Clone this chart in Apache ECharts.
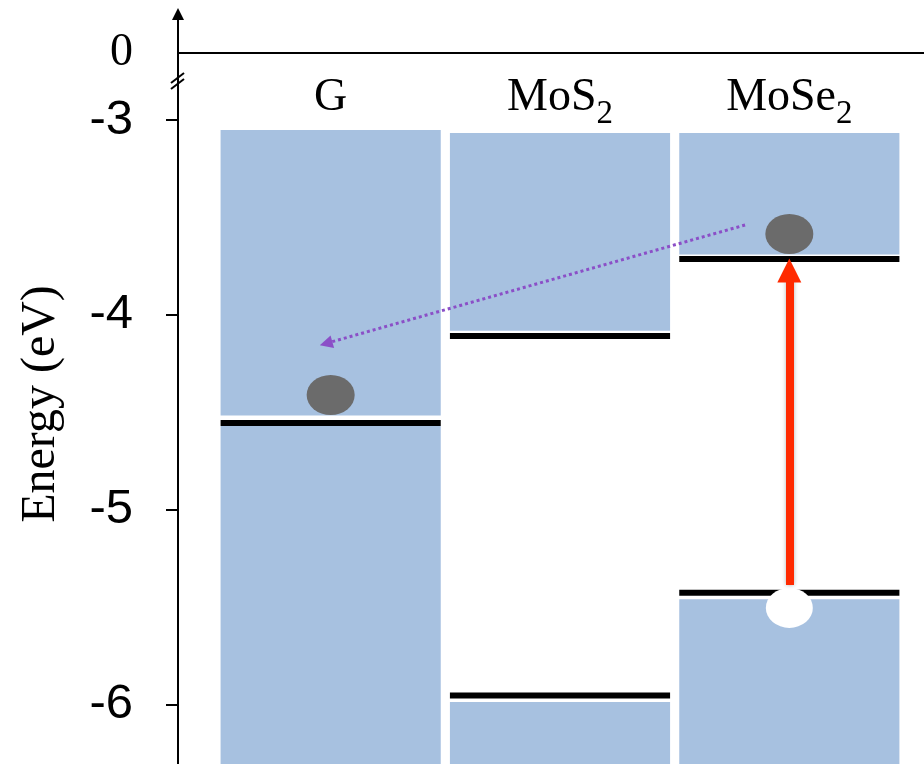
<!DOCTYPE html>
<html><head><meta charset="utf-8">
<script src="https://cdn.jsdelivr.net/npm/echarts@6/dist/echarts.min.js"></script>
<style>html,body{margin:0;padding:0;background:#fff}#c{width:924px;height:764px}</style>
</head><body><div id="c"></div>
<script>
// ---- data ----
const categories = ['G', 'MoS2', 'MoSe2'];
const yTickValues = [-3, -4, -5, -6];
const topTickValues = [0];
const bandTop = [-3.051, -3.067, -3.067];       // top of upper (conduction) band block
const cbBandBottom = [-4.517, -4.082, -3.690];  // bottom of upper block
const cbEdge = [-4.556, -4.109, -3.714];        // black level line (CBM / Fermi level)
const vbEdge = [null, -5.955, -5.427];          // black level line (VBM)
const vbBandTop = [-4.571, -5.988, -5.461];     // top of lower (valence) band block
const bandFloor = -6.4;
const electrons = [[0, -4.412], [2, -3.585]];
const holes = [[2, -5.505]];
const excitation = [[2, -5.387], [2, -3.773]];
const transfer = [[1.807, -3.539], [-0.02, -4.147]];

const BLUE = '#a7c1e0';
const BAR_RATIO = 0.96;
const FONT = 'Liberation Serif';
const TICK_FONT = "'Liberation Sans', sans-serif";

const upperBands = categories.map((c, i) => [i, bandTop[i], cbBandBottom[i]]);
const lowerBands = categories.map((c, i) => [i, vbBandTop[i], bandFloor]);
const edgeLines = [];
categories.forEach((c, i) => {
  if (cbEdge[i] != null) edgeLines.push([i, cbEdge[i]]);
  if (vbEdge[i] != null) edgeLines.push([i, vbEdge[i]]);
});

function bandRender(params, api) {
  const x = api.value(0);
  const p1 = api.coord([x, api.value(1)]);
  const p2 = api.coord([x, api.value(2)]);
  const w = api.size([BAR_RATIO, 0])[0];
  return { type: 'rect', shape: { x: p1[0] - w / 2, y: p1[1], width: w, height: p2[1] - p1[1] },
           style: { fill: BLUE } };
}
function edgeRender(params, api) {
  const p = api.coord([api.value(0), api.value(1)]);
  const w = api.size([BAR_RATIO, 0])[0];
  return { type: 'rect', shape: { x: p[0] - w / 2, y: p[1] - 3, width: w, height: 6 },
           style: { fill: '#000' } };
}

const chart = echarts.init(document.getElementById('c'), null, { renderer: 'canvas' });
chart.setOption({
  animation: false,
  backgroundColor: '#fff',
  grid: [
    { left: 178, right: 0, top: 14, height: 66, outerBoundsMode: 'none', containLabel: false },
    { left: 216, right: 20, top: 80, bottom: 0, outerBoundsMode: 'none', containLabel: false }
  ],
  xAxis: [
    { gridIndex: 0, type: 'value', min: 0, max: 1,
      axisLine: { show: true, onZero: true, lineStyle: { color: '#000', width: 2 } },
      axisTick: { show: false }, axisLabel: { show: false }, splitLine: { show: false } },
    { gridIndex: 1, type: 'value', min: -0.5, max: 2.5, position: 'top',
      axisLine: { show: false, onZero: false }, axisTick: { show: false }, splitLine: { show: false },
      axisLabel: {
        show: true, inside: true, margin: 18, verticalAlign: 'middle',
        customValues: categories.map((c, i) => i),
        color: '#000', fontFamily: FONT, fontSize: 46,
        formatter: v => categories[Math.round(v)].replace(/(\d+)$/, '{sub|$1}'),
        rich: { sub: { fontSize: 33, fontFamily: FONT, color: '#000', padding: [32, 0, 0, 0] } }
      } }
  ],
  yAxis: [
    { gridIndex: 0, type: 'value', min: -0.9, max: 1.3,
      axisLine: { show: true, onZero: false, symbol: ['none', 'triangle'], symbolSize: [12, 12],
                  lineStyle: { color: '#000', width: 2 } },
      axisTick: { show: false }, splitLine: { show: false },
      axisLabel: { customValues: topTickValues, margin: 45, color: '#000', fontFamily: FONT, fontSize: 46 } },
    { gridIndex: 1, type: 'value', min: -6.3065, max: -2.7946, offset: 38,
      name: 'Energy (eV)', nameLocation: 'middle', nameRotate: 90, nameGap: 113, nameMoveOverlap: false,
      nameTextStyle: { fontFamily: FONT, fontSize: 48, color: '#000', padding: [0, 0, 0, 36] },
      axisLine: { show: true, onZero: false, lineStyle: { color: '#000', width: 2 } },
      axisTick: { show: true, length: 12, customValues: yTickValues, lineStyle: { color: '#000', width: 2 } },
      splitLine: { show: false },
      axisLabel: { customValues: yTickValues, margin: 45, color: '#000', fontFamily: TICK_FONT, fontSize: 49 } }
  ],
  series: [
    { type: 'custom', xAxisIndex: 1, yAxisIndex: 1, clip: true, z: 1, renderItem: bandRender, data: upperBands },
    { type: 'custom', xAxisIndex: 1, yAxisIndex: 1, clip: true, z: 1, renderItem: bandRender, data: lowerBands },
    { type: 'custom', xAxisIndex: 1, yAxisIndex: 1, clip: true, z: 2, renderItem: edgeRender, data: edgeLines },
    { type: 'scatter', xAxisIndex: 1, yAxisIndex: 1, z: 3, symbol: 'circle', symbolSize: [48, 40],
      itemStyle: { color: '#6b6b6b', opacity: 1 }, data: electrons },
    { type: 'scatter', xAxisIndex: 1, yAxisIndex: 1, z: 3, symbol: 'circle', symbolSize: [47, 40],
      itemStyle: { color: '#ffffff', opacity: 1 }, data: holes },
    { type: 'lines', coordinateSystem: 'cartesian2d', xAxisIndex: 1, yAxisIndex: 1, z: 4,
      symbol: ['none', 'triangle'], symbolSize: [0, 24],
      lineStyle: { color: '#ff2a00', width: 8, opacity: 1, shadowBlur: 4, shadowColor: 'rgba(0,0,0,0.3)' },
      itemStyle: { color: '#ff2a00' },
      data: [{ coords: excitation }] },
    { type: 'lines', coordinateSystem: 'cartesian2d', xAxisIndex: 1, yAxisIndex: 1, z: 4,
      symbol: ['none', 'triangle'], symbolSize: [0, 13],
      lineStyle: { color: '#8b4fc7', width: 3, type: [3, 3], opacity: 1 },
      data: [{ coords: transfer }] }
  ],
  graphic: [
    { type: 'line', shape: { x1: 171, y1: 83, x2: 184, y2: 73 }, style: { stroke: '#000', lineWidth: 2 } },
    { type: 'line', shape: { x1: 171, y1: 89, x2: 184, y2: 79 }, style: { stroke: '#000', lineWidth: 2 } }
  ]
});
</script></body></html>
